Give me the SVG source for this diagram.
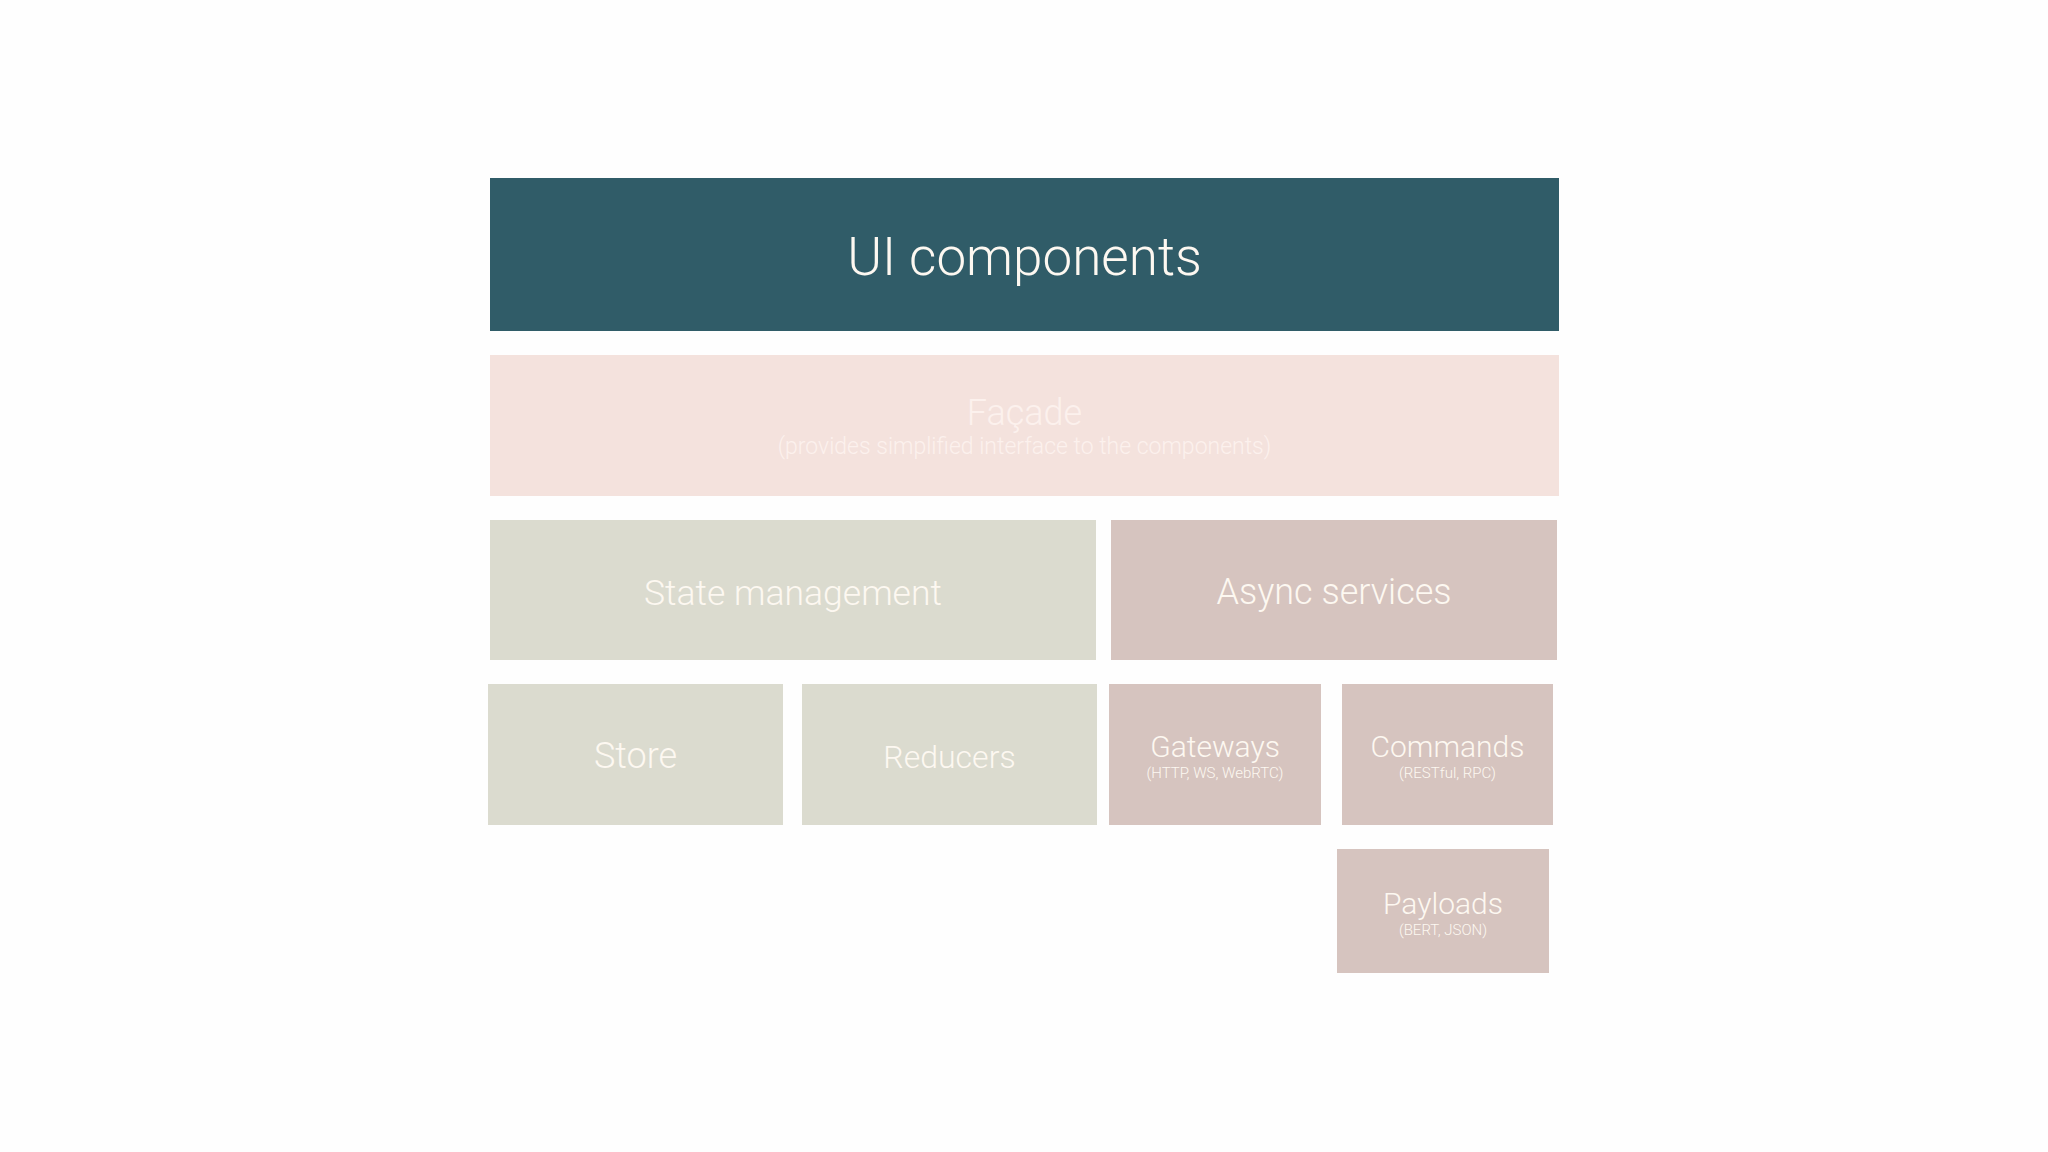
<svg xmlns="http://www.w3.org/2000/svg" width="2048" height="1152" viewBox="0 0 2048 1152">
<style>
text{font-family:Roboto,"Liberation Sans",Arial,sans-serif;font-weight:300;fill:#fdf8f1;text-anchor:middle}
.teal{fill:#305c68}
.pink{fill:#f4e2dd}
.sage{fill:#dbdbcf}
.rose{fill:#d6c4bf}
.sub{font-size:15px}
.mid{font-size:30px}
</style>
<rect width="2048" height="1152" fill="#fefefe"/>
<g id="ui-components">
<rect class="teal" x="490" y="178" width="1069" height="153"/>
<text x="1024.5" y="275" font-size="53">UI components</text>
</g>
<g id="facade">
<rect class="pink" x="490" y="355" width="1069" height="141"/>
<text x="1024.5" y="425" font-size="36" style="fill:#fcf1ed">Façade</text>
<text x="1024.5" y="454" font-size="23" style="fill:#fcf1ed">(provides simplified interface to the components)</text>
</g>
<g id="state-management">
<rect class="sage" x="490" y="520" width="606" height="140"/>
<text x="793" y="605" font-size="35.5">State management</text>
</g>
<g id="async-services">
<rect class="rose" x="1111" y="520" width="446" height="140"/>
<text x="1334" y="604" font-size="36">Async services</text>
</g>
<g id="store">
<rect class="sage" x="488" y="684" width="295" height="141"/>
<text x="635.5" y="768" font-size="36">Store</text>
</g>
<g id="reducers">
<rect class="sage" x="802" y="684" width="295" height="141"/>
<text x="949.5" y="768" font-size="32">Reducers</text>
</g>
<g id="gateways">
<rect class="rose" x="1109" y="684" width="212" height="141"/>
<text class="mid" x="1215" y="757">Gateways</text>
<text class="sub" x="1215" y="778">(HTTP, WS, WebRTC)</text>
</g>
<g id="commands">
<rect class="rose" x="1342" y="684" width="211" height="141"/>
<text class="mid" x="1447.5" y="757">Commands</text>
<text class="sub" x="1447.5" y="778">(RESTful, RPC)</text>
</g>
<g id="payloads">
<rect class="rose" x="1337" y="849" width="212" height="124"/>
<text class="mid" x="1443" y="914">Payloads</text>
<text class="sub" x="1443" y="935">(BERT, JSON)</text>
</g>
<g id="connectors"></g>
</svg>
